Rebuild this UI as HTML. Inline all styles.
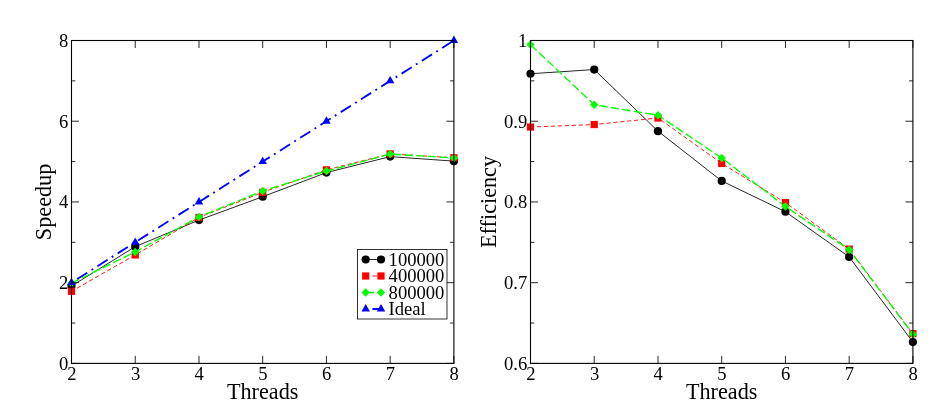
<!DOCTYPE html>
<html><head><meta charset="utf-8"><title>Speedup and Efficiency</title>
<style>
html,body{margin:0;padding:0;background:#fff;}
body{width:938px;height:415px;overflow:hidden;}
svg{display:block;}
text{font-family:"Liberation Serif","DejaVu Serif",serif;fill:#000;}
</style></head><body>
<svg width="938" height="415" viewBox="0 0 938 415">
<rect width="938" height="415" fill="#fff"/>
<polyline points="71.50,286.00 135.23,246.67 198.97,220.08 262.70,196.70 326.43,172.59 390.17,156.61 453.90,161.14" fill="none" stroke="#000" stroke-width="0.85"/>
<circle cx="71.50" cy="286.00" r="4.1" fill="#000"/>
<circle cx="135.23" cy="246.67" r="4.1" fill="#000"/>
<circle cx="198.97" cy="220.08" r="4.1" fill="#000"/>
<circle cx="262.70" cy="196.70" r="4.1" fill="#000"/>
<circle cx="326.43" cy="172.59" r="4.1" fill="#000"/>
<circle cx="390.17" cy="156.61" r="4.1" fill="#000"/>
<circle cx="453.90" cy="161.14" r="4.1" fill="#000"/>
<polyline points="71.50,291.33 135.23,254.92 198.97,217.45 262.70,192.32 326.43,169.85 390.17,153.87 453.90,157.74" fill="none" stroke="#f00" stroke-width="0.9" stroke-dasharray="4.3 2.65" stroke-dashoffset="0.5"/>
<rect x="67.90" y="287.73" width="7.2" height="7.2" fill="#f00"/>
<rect x="131.63" y="251.32" width="7.2" height="7.2" fill="#f00"/>
<rect x="195.37" y="213.85" width="7.2" height="7.2" fill="#f00"/>
<rect x="259.10" y="188.72" width="7.2" height="7.2" fill="#f00"/>
<rect x="322.83" y="166.25" width="7.2" height="7.2" fill="#f00"/>
<rect x="386.57" y="150.27" width="7.2" height="7.2" fill="#f00"/>
<rect x="450.30" y="154.14" width="7.2" height="7.2" fill="#f00"/>
<polyline points="71.50,283.09 135.23,251.95 198.97,216.90 262.70,190.95 326.43,171.02 390.17,154.10 453.90,157.97" fill="none" stroke="#0f0" stroke-width="1.35" stroke-dasharray="8.5 3.1"/>
<path d="M67.30 283.09L71.50 278.89L75.70 283.09L71.50 287.29Z" fill="#0f0"/>
<path d="M131.03 251.95L135.23 247.75L139.43 251.95L135.23 256.15Z" fill="#0f0"/>
<path d="M194.77 216.90L198.97 212.70L203.17 216.90L198.97 221.10Z" fill="#0f0"/>
<path d="M258.50 190.95L262.70 186.75L266.90 190.95L262.70 195.15Z" fill="#0f0"/>
<path d="M322.23 171.02L326.43 166.82L330.63 171.02L326.43 175.22Z" fill="#0f0"/>
<path d="M385.97 154.10L390.17 149.90L394.37 154.10L390.17 158.30Z" fill="#0f0"/>
<path d="M449.70 157.97L453.90 153.77L458.10 157.97L453.90 162.17Z" fill="#0f0"/>
<polyline points="71.50,282.67 135.23,242.31 198.97,201.95 262.70,161.59 326.43,121.22 390.17,80.86 453.90,40.50" fill="none" stroke="#00f" stroke-width="1.85" stroke-dasharray="1.9 5.1 12 5" stroke-dashoffset="0.3"/>
<path d="M71.50 277.77L75.75 285.12L67.25 285.12Z" fill="#00f"/>
<path d="M135.23 237.41L139.48 244.76L130.98 244.76Z" fill="#00f"/>
<path d="M198.97 197.05L203.22 204.40L194.72 204.40Z" fill="#00f"/>
<path d="M262.70 156.69L266.95 164.04L258.45 164.04Z" fill="#00f"/>
<path d="M326.43 116.32L330.68 123.67L322.18 123.67Z" fill="#00f"/>
<path d="M390.17 75.96L394.42 83.31L385.92 83.31Z" fill="#00f"/>
<path d="M453.90 35.60L458.15 42.95L449.65 42.95Z" fill="#00f"/>
<rect x="71.50" y="40.50" width="382.40" height="322.90" fill="none" stroke="#000" stroke-width="1.1"/>
<path d="M71.50 363.40v-7.50 M71.50 40.50v7.50 M135.23 363.40v-7.50 M135.23 40.50v7.50 M198.97 363.40v-7.50 M198.97 40.50v7.50 M262.70 363.40v-7.50 M262.70 40.50v7.50 M326.43 363.40v-7.50 M326.43 40.50v7.50 M390.17 363.40v-7.50 M390.17 40.50v7.50 M453.90 363.40v-7.50 M453.90 40.50v7.50 M71.50 363.40h7.50 M453.90 363.40h-7.50 M71.50 323.04h3.80 M453.90 323.04h-3.80 M71.50 282.67h7.50 M453.90 282.67h-7.50 M71.50 242.31h3.80 M453.90 242.31h-3.80 M71.50 201.95h7.50 M453.90 201.95h-7.50 M71.50 161.59h3.80 M453.90 161.59h-3.80 M71.50 121.22h7.50 M453.90 121.22h-7.50 M71.50 80.86h3.80 M453.90 80.86h-3.80 M71.50 40.50h7.50 M453.90 40.50h-7.50" stroke="#000" stroke-width="0.85" fill="none"/>
<text x="71.80" y="379.80" font-size="18.6" text-anchor="middle">2</text>
<text x="135.53" y="379.80" font-size="18.6" text-anchor="middle">3</text>
<text x="199.27" y="379.80" font-size="18.6" text-anchor="middle">4</text>
<text x="263.00" y="379.80" font-size="18.6" text-anchor="middle">5</text>
<text x="326.73" y="379.80" font-size="18.6" text-anchor="middle">6</text>
<text x="390.47" y="379.80" font-size="18.6" text-anchor="middle">7</text>
<text x="454.20" y="379.80" font-size="18.6" text-anchor="middle">8</text>
<text x="68.30" y="369.80" font-size="18.6" text-anchor="end">0</text>
<text x="68.30" y="289.07" font-size="18.6" text-anchor="end">2</text>
<text x="68.30" y="208.35" font-size="18.6" text-anchor="end">4</text>
<text x="68.30" y="127.62" font-size="18.6" text-anchor="end">6</text>
<text x="68.30" y="46.90" font-size="18.6" text-anchor="end">8</text>
<text x="262.70" y="399.30" font-size="22.2" text-anchor="middle">Threads</text>
<text transform="translate(50.60 201.95) rotate(-90)" font-size="22.2" text-anchor="middle">Speedup</text>
<polyline points="530.50,73.76 594.23,69.56 657.97,131.15 721.70,180.96 785.43,211.72 849.17,256.92 912.90,342.09" fill="none" stroke="#000" stroke-width="0.85"/>
<circle cx="530.50" cy="73.76" r="4.1" fill="#000"/>
<circle cx="594.23" cy="69.56" r="4.1" fill="#000"/>
<circle cx="657.97" cy="131.15" r="4.1" fill="#000"/>
<circle cx="721.70" cy="180.96" r="4.1" fill="#000"/>
<circle cx="785.43" cy="211.72" r="4.1" fill="#000"/>
<circle cx="849.17" cy="256.92" r="4.1" fill="#000"/>
<circle cx="912.90" cy="342.09" r="4.1" fill="#000"/>
<polyline points="530.50,127.04 594.23,124.53 657.97,118.00 721.70,163.44 785.43,202.60 849.17,249.09 912.90,333.61" fill="none" stroke="#f00" stroke-width="0.9" stroke-dasharray="4.3 2.65" stroke-dashoffset="0.5"/>
<rect x="526.90" y="123.44" width="7.2" height="7.2" fill="#f00"/>
<rect x="590.63" y="120.93" width="7.2" height="7.2" fill="#f00"/>
<rect x="654.37" y="114.40" width="7.2" height="7.2" fill="#f00"/>
<rect x="718.10" y="159.84" width="7.2" height="7.2" fill="#f00"/>
<rect x="781.83" y="199.00" width="7.2" height="7.2" fill="#f00"/>
<rect x="845.57" y="245.49" width="7.2" height="7.2" fill="#f00"/>
<rect x="909.30" y="330.01" width="7.2" height="7.2" fill="#f00"/>
<polyline points="530.50,44.62 594.23,104.76 657.97,115.25 721.70,157.95 785.43,206.47 849.17,249.74 912.90,334.18" fill="none" stroke="#0f0" stroke-width="1.35" stroke-dasharray="8.5 3.1"/>
<path d="M526.30 44.62L530.50 40.42L534.70 44.62L530.50 48.82Z" fill="#0f0"/>
<path d="M590.03 104.76L594.23 100.56L598.43 104.76L594.23 108.96Z" fill="#0f0"/>
<path d="M653.77 115.25L657.97 111.05L662.17 115.25L657.97 119.45Z" fill="#0f0"/>
<path d="M717.50 157.95L721.70 153.75L725.90 157.95L721.70 162.15Z" fill="#0f0"/>
<path d="M781.23 206.47L785.43 202.27L789.63 206.47L785.43 210.67Z" fill="#0f0"/>
<path d="M844.97 249.74L849.17 245.54L853.37 249.74L849.17 253.94Z" fill="#0f0"/>
<path d="M908.70 334.18L912.90 329.98L917.10 334.18L912.90 338.38Z" fill="#0f0"/>
<rect x="530.50" y="40.50" width="382.40" height="322.90" fill="none" stroke="#000" stroke-width="1.1"/>
<path d="M530.50 363.40v-7.50 M530.50 40.50v7.50 M594.23 363.40v-7.50 M594.23 40.50v7.50 M657.97 363.40v-7.50 M657.97 40.50v7.50 M721.70 363.40v-7.50 M721.70 40.50v7.50 M785.43 363.40v-7.50 M785.43 40.50v7.50 M849.17 363.40v-7.50 M849.17 40.50v7.50 M912.90 363.40v-7.50 M912.90 40.50v7.50 M530.50 363.40h7.50 M912.90 363.40h-7.50 M530.50 323.04h3.80 M912.90 323.04h-3.80 M530.50 282.68h7.50 M912.90 282.68h-7.50 M530.50 242.31h3.80 M912.90 242.31h-3.80 M530.50 201.95h7.50 M912.90 201.95h-7.50 M530.50 161.59h3.80 M912.90 161.59h-3.80 M530.50 121.22h7.50 M912.90 121.22h-7.50 M530.50 80.86h3.80 M912.90 80.86h-3.80 M530.50 40.50h7.50 M912.90 40.50h-7.50" stroke="#000" stroke-width="0.85" fill="none"/>
<text x="530.80" y="379.80" font-size="18.6" text-anchor="middle">2</text>
<text x="594.53" y="379.80" font-size="18.6" text-anchor="middle">3</text>
<text x="658.27" y="379.80" font-size="18.6" text-anchor="middle">4</text>
<text x="722.00" y="379.80" font-size="18.6" text-anchor="middle">5</text>
<text x="785.73" y="379.80" font-size="18.6" text-anchor="middle">6</text>
<text x="849.47" y="379.80" font-size="18.6" text-anchor="middle">7</text>
<text x="913.20" y="379.80" font-size="18.6" text-anchor="middle">8</text>
<text x="527.30" y="369.80" font-size="18.6" text-anchor="end">0.6</text>
<text x="527.30" y="289.07" font-size="18.6" text-anchor="end">0.7</text>
<text x="527.30" y="208.35" font-size="18.6" text-anchor="end">0.8</text>
<text x="527.30" y="127.62" font-size="18.6" text-anchor="end">0.9</text>
<text x="527.30" y="46.90" font-size="18.6" text-anchor="end">1</text>
<text x="721.70" y="399.30" font-size="22.2" text-anchor="middle">Threads</text>
<text transform="translate(496.00 201.95) rotate(-90)" font-size="22.2" text-anchor="middle">Efficiency</text>
<rect x="357.5" y="249.45" width="89.5" height="69.55" fill="#fff" stroke="#000" stroke-width="0.8"/>
<line x1="365.7" y1="259.50" x2="381.0" y2="259.50" stroke="#000" stroke-width="0.85"/>
<circle cx="365.70" cy="259.50" r="4.1" fill="#000"/>
<circle cx="381.00" cy="259.50" r="4.1" fill="#000"/>
<text x="388.6" y="265.90" font-size="18.6">100000</text>
<line x1="365.7" y1="276.00" x2="381.0" y2="276.00" stroke="#f00" stroke-width="0.9" stroke-dasharray="0 6.9 4.7 20"/>
<rect x="362.10" y="272.40" width="7.2" height="7.2" fill="#f00"/>
<rect x="377.40" y="272.40" width="7.2" height="7.2" fill="#f00"/>
<text x="388.6" y="282.40" font-size="18.6">400000</text>
<line x1="365.7" y1="292.50" x2="381.0" y2="292.50" stroke="#0f0" stroke-width="1.35" stroke-dasharray="8.5 3.1"/>
<path d="M361.50 292.50L365.70 288.30L369.90 292.50L365.70 296.70Z" fill="#0f0"/>
<path d="M376.80 292.50L381.00 288.30L385.20 292.50L381.00 296.70Z" fill="#0f0"/>
<text x="388.6" y="298.90" font-size="18.6">800000</text>
<line x1="365.7" y1="309.00" x2="381.0" y2="309.00" stroke="#00f" stroke-width="1.85" stroke-dasharray="1.9 5.1 12 5" stroke-dashoffset="0.3"/>
<path d="M365.70 304.10L369.95 311.45L361.45 311.45Z" fill="#00f"/>
<path d="M381.00 304.10L385.25 311.45L376.75 311.45Z" fill="#00f"/>
<text x="388.6" y="315.40" font-size="18.6">Ideal</text>
</svg>
</body></html>
